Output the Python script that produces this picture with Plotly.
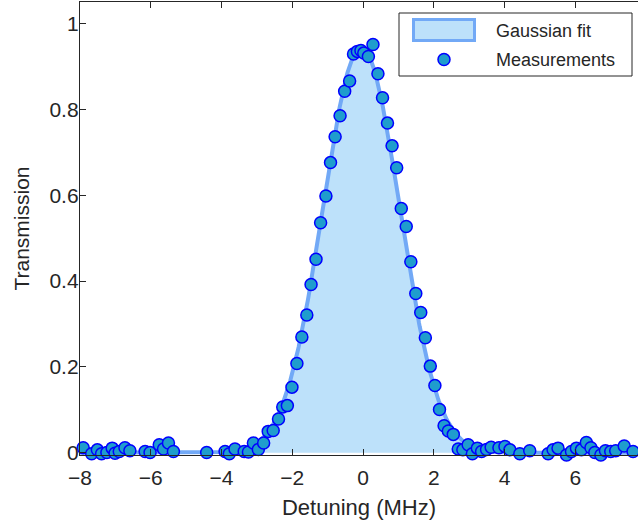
import numpy as np
import plotly.graph_objects as go

detuning_mhz = [
    -7.91, -7.67, -7.51, -7.39, -7.24, -7.09, -7.01, -6.89, -6.73, -6.59,
    -6.45, -6.16, -6.02, -5.76, -5.64, -5.50, -5.36, -4.81, -4.42, -4.28,
    -3.90, -3.78, -3.62, -3.36, -3.24, -3.10, -2.96, -2.81, -2.68, -2.54,
    -2.39, -2.27, -2.14, -2.01, -1.87, -1.73, -1.59, -1.47, -1.33, -1.20,
    -1.05, -0.92, -0.79, -0.65, -0.52, -0.38, -0.27, -0.16, -0.06, 0.02,
    0.15, 0.28, 0.42, 0.55, 0.69, 0.82, 0.95, 1.08, 1.22, 1.35,
    1.49, 1.63, 1.76, 1.90, 2.03, 2.16, 2.29, 2.41, 2.55, 2.69,
    2.82, 2.97, 3.09, 3.23, 3.35, 3.49, 3.62, 3.84, 4.01, 4.15,
    4.43, 4.71, 5.23, 5.37, 5.51, 5.75, 5.89, 6.03, 6.17, 6.31,
    6.44, 6.55, 6.72, 6.85, 7.00, 7.14, 7.38, 7.63,
]
transmission = [
    0.012, -0.002, 0.007, -0.002, 0.001, 0.011, -0.001, 0.003, 0.012, 0.005,
    -0.006, 0.003, 0.001, 0.019, 0.009, 0.023, 0.003, -0.007, 0.001, -0.007,
    0.003, -0.002, 0.009, 0.003, 0.002, 0.023, 0.008, 0.023, 0.050, 0.052,
    0.079, 0.107, 0.110, 0.153, 0.208, 0.270, 0.321, 0.392, 0.451, 0.536,
    0.598, 0.676, 0.736, 0.785, 0.842, 0.866, 0.929, 0.935, 0.937, 0.931,
    0.923, 0.951, 0.883, 0.827, 0.768, 0.715, 0.664, 0.569, 0.527, 0.445,
    0.371, 0.327, 0.268, 0.202, 0.157, 0.101, 0.063, 0.051, 0.043, 0.009,
    0.007, 0.019, -0.002, 0.011, 0.003, 0.008, 0.013, 0.012, 0.015, 0.007,
    -0.002, 0.005, -0.002, 0.007, 0.011, -0.005, 0.003, 0.011, 0.007, 0.024,
    0.012, 0.001, -0.005, 0.005, 0.003, 0.005, 0.016, 0.003,
]

# Gaussian fit parameters
fit_amplitude = 0.945
fit_center = -0.05
fit_sigma = 1.08
fit_x_span = [-8.0, 8.0]

x_ticks = [-8, -6, -4, -2, 0, 2, 4, 6]
y_ticks = [0, 0.2, 0.4, 0.6, 0.8, 1]
y_tick_labels = ["0", "0.2", "0.4", "0.6", "0.8", "1"]
legend_labels = ["Gaussian fit", "Measurements"]

x_fit = np.linspace(fit_x_span[0], fit_x_span[1], 801)
y_fit = fit_amplitude * np.exp(-((x_fit - fit_center) ** 2) / (2 * fit_sigma ** 2))

ink = "#262626"
font_family = "Liberation Sans, Arial, Helvetica, sans-serif"
fit_fill = "#bde1fa"
fit_line = "#72a9f6"
marker_fill = "#1f9dcd"
marker_edge = "#0000ff"

W, H = 638, 527
ML, MR, MT, MB = 80, 0, 2, 72
PW, PH = W - ML - MR, H - MT - MB


def px(x):  # pixel column -> paper x
    return (x - ML) / PW


def py(y):  # pixel row -> paper y
    return (H - MB - y) / PH


fig = go.Figure()
fig.add_trace(go.Scatter(
    x=x_fit, y=y_fit, mode="lines", name=legend_labels[0],
    fill="tozeroy", fillcolor=fit_fill,
    line=dict(color=fit_line, width=4), showlegend=False,
))
fig.add_trace(go.Scatter(
    x=detuning_mhz, y=transmission, mode="markers", name=legend_labels[1],
    marker=dict(size=12, color=marker_fill, line=dict(color=marker_edge, width=1.5)),
    cliponaxis=False, showlegend=False,
))

# Legend drawn as a boxed key (MATLAB style)
shapes = [
    dict(type="rect", xref="paper", yref="paper", layer="above",
         x0=px(399), x1=px(632), y0=py(13), y1=py(76),
         line=dict(color=ink, width=1), fillcolor="white"),
    dict(type="rect", xref="paper", yref="paper", layer="above",
         x0=px(413.5), x1=px(474.5), y0=py(19.5), y1=py(40.5),
         line=dict(color=fit_line, width=3), fillcolor=fit_fill),
    dict(type="circle", xref="paper", yref="paper", layer="above",
         x0=px(438), x1=px(450), y0=py(53.5), y1=py(65.5),
         line=dict(color=marker_edge, width=1.5), fillcolor=marker_fill),
]
annotations = [
    dict(text=legend_labels[0], xref="paper", yref="paper", x=px(494), y=py(31),
         xanchor="left", yanchor="middle", showarrow=False,
         font=dict(size=18, color=ink, family=font_family)),
    dict(text=legend_labels[1], xref="paper", yref="paper", x=px(494), y=py(60),
         xanchor="left", yanchor="middle", showarrow=False,
         font=dict(size=18, color=ink, family=font_family)),
]

fig.update_layout(
    width=W, height=H,
    margin=dict(l=ML, r=MR, t=MT, b=MB, autoexpand=False),
    paper_bgcolor="white", plot_bgcolor="white",
    font=dict(family=font_family, color=ink, size=21),
    showlegend=False,
    shapes=shapes, annotations=annotations,
    xaxis=dict(
        range=[-8, 7.77], tickvals=x_ticks, ticks="inside", ticklen=6,
        tickcolor=ink, showline=True, linecolor=ink, linewidth=1.3,
        mirror="ticks", showgrid=False, zeroline=False, automargin=False,
        title=dict(text="Detuning (MHz)", font=dict(size=22), standoff=11),
        tickfont=dict(size=21), ticklabelstandoff=4,
    ),
    yaxis=dict(
        range=[-0.005, 1.05], tickvals=y_ticks, ticktext=y_tick_labels,
        ticks="inside", ticklen=6, tickcolor=ink, showline=True,
        linecolor=ink, linewidth=1.3, showgrid=False, zeroline=False,
        automargin=False,
        title=dict(text="Transmission", font=dict(size=21), standoff=14),
        tickfont=dict(size=21), ticklabelstandoff=-4,
    ),
)

fig.write_html(
    "out.html",
    config={"displayModeBar": False},
    post_script="document.body.style.margin='0px';",
)
